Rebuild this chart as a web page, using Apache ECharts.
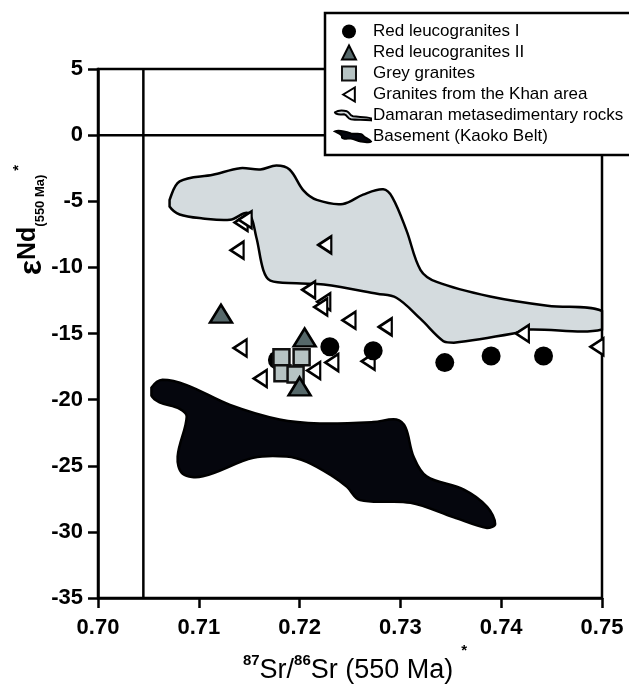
<!DOCTYPE html>
<html>
<head>
<meta charset="utf-8">
<script src="https://cdn.jsdelivr.net/npm/echarts@6/dist/echarts.min.js"></script>
<style>
  html, body { margin: 0; padding: 0; background: #fff; }
  #main { width: 629px; height: 688px; }
</style>
</head>
<body>
<div id="main"></div>
<script>
// 数据点 (87Sr/86Sr, εNd)
var redIX = [0.7178, 0.7230, 0.7273, 0.7344, 0.7390, 0.7442];
var redIY = [-17.0, -16.0, -16.3, -17.2, -16.7, -16.7];

var redIIX = [0.7122, 0.7205, 0.7200];
var redIIY = [-13.5, -15.3, -19.0];

var greyX = [0.7182, 0.7202, 0.7183, 0.7196];
var greyY = [-16.8, -16.8, -18.0, -18.1];

var khanX = [0.7142, 0.7146, 0.7138, 0.7225, 0.7209, 0.7224, 0.7221, 0.7249, 0.7285, 0.7421, 0.7495, 0.7141, 0.7232, 0.7268, 0.7161, 0.7214];
var khanY = [-6.6, -6.4, -8.7, -8.3, -11.7, -12.6, -13.0, -14.0, -14.5, -15.0, -16.0, -16.1, -17.2, -17.1, -18.4, -17.8];

// Damaran 变质沉积岩范围 (多边形)
var damX = [0.7071, 0.7081, 0.7114, 0.7141, 0.7161, 0.7177, 0.7190, 0.7204, 0.7217, 0.7243, 0.7263, 0.7283, 0.7292, 0.7306, 0.7320, 0.7336, 0.7389, 0.7446, 0.7500,
            0.7500, 0.7426, 0.7412, 0.7353, 0.7343, 0.7320, 0.7296, 0.7277, 0.7224, 0.7197, 0.7171, 0.7164, 0.7157, 0.7149, 0.7131, 0.7104, 0.7081, 0.7071];
var damY = [-4.9, -3.5, -3.0, -2.5, -2.6, -2.3, -2.6, -4.2, -4.9, -5.2, -4.5, -4.1, -4.7, -7.2, -10.2, -11.1, -12.2, -12.9, -13.3,
            -14.7, -14.7, -15.0, -15.7, -15.6, -13.9, -12.3, -12.0, -11.3, -11.2, -11.0, -10.2, -7.7, -5.9, -6.4, -6.3, -6.0, -5.4];

// 基底 (Kaoko Belt) 范围
var basX = [0.7053, 0.7064, 0.7088, 0.7131, 0.7180, 0.7220, 0.7273, 0.7296, 0.7305, 0.7313, 0.7326, 0.7363, 0.7386, 0.7394, 0.7386, 0.7353, 0.7310, 0.7260, 0.7247, 0.7233, 0.7207, 0.7187, 0.7154, 0.7104, 0.7084, 0.7079, 0.7088, 0.7081, 0.7061, 0.7053];
var basY = [-19.1, -18.5, -18.9, -20.4, -21.5, -21.8, -21.7, -21.5, -22.1, -24.3, -25.8, -26.8, -28.1, -29.4, -29.7, -28.9, -27.8, -27.6, -26.6, -25.8, -24.7, -24.3, -24.4, -25.8, -25.6, -24.3, -21.3, -20.7, -20.2, -19.7];

var xTicks = [0.70, 0.71, 0.72, 0.73, 0.74, 0.75];
var yTicks = [5, 0, -5, -10, -15, -20, -25, -30, -35];
var refSr = 0.7045;

function zip(xs, ys) {
    return xs.map(function (x, i) { return [x, ys[i]]; });
}

function polySeries(name, xs, ys, fill, z) {
    var pts = zip(xs, ys);
    return {
        name: name,
        type: 'custom',
        z: z,
        itemStyle: { color: fill, borderColor: '#000', borderWidth: 1.5 },
        renderItem: function (params, api) {
            var px = pts.map(function (p) { return api.coord(p); });
            var minX = Infinity, minY = Infinity, maxX = -Infinity, maxY = -Infinity;
            px.forEach(function (p) {
                minX = Math.min(minX, p[0]); maxX = Math.max(maxX, p[0]);
                minY = Math.min(minY, p[1]); maxY = Math.max(maxY, p[1]);
            });
            return {
                type: 'polygon',
                shape: { points: px, smooth: 0.35, smoothConstraint: [[minX, minY], [maxX, maxY]] },
                style: { fill: fill, stroke: '#000', lineWidth: 2.5 }
            };
        },
        data: [0]
    };
}

var font = 'Liberation Sans, Arial, sans-serif';
var legendText = { fontSize: 17, lineHeight: 17, color: '#000', fontFamily: font };

var myChart = echarts.init(document.getElementById('main'));
var option = {
    animation: false,
    textStyle: { fontFamily: font },
    grid: {
        left: 98, right: 27, top: 69, bottom: 90,
        outerBoundsMode: 'none',
        show: true, borderColor: '#000', borderWidth: 2.5
    },
    legend: [{
        orient: 'vertical',
        left: 341, top: 23, z: 20,
        padding: 0,
        itemWidth: 14, itemHeight: 14, itemGap: 4,
        textStyle: Object.assign({ padding: [0, 0, 0, 12] }, legendText),
        data: [
            { name: 'Red leucogranites I', icon: 'circle' },
            { name: 'Red leucogranites II', icon: 'triangle' },
            { name: 'Grey granites', icon: 'rect', itemStyle: { borderWidth: 2 } },
            { name: 'Granites from the Khan area', icon: 'path://M0,6 L10,0 L10,12 Z' }
        ]
    }, {
        orient: 'vertical',
        left: 334, top: 107, z: 20,
        padding: 0,
        itemWidth: 36, itemHeight: 12, itemGap: 4,
        textStyle: Object.assign({ padding: [0, 0, 0, -3] }, legendText),
        data: [
            { name: 'Damaran metasedimentary rocks', icon: 'path://M0,2 C3,0 8,0 12,1 C15,2 14,5 18,6 C24,7 30,6 36,8 L36,10 C28,9 22,10 16,9 C12,8 13,5 9,4 C5,4 1,5 0,2 Z' },
            { name: 'Basement (Kaoko Belt)', icon: 'path://M0,1 C4,-1 10,1 16,3 C22,4 26,2 28,5 C30,8 34,8 36,11 C34,13 30,11 26,11 C22,10 20,9 16,8 C12,8 8,9 7,7 C8,4 4,3 0,1 Z' }
        ]
    }],
    xAxis: [{
        type: 'value',
        min: 0.70, max: 0.75, interval: 0.01,
        axisLine: { show: true, onZero: false, lineStyle: { color: '#000', width: 2.5 } },
        axisTick: { show: true, inside: false, length: 10, lineStyle: { color: '#000', width: 2.5 } },
        axisLabel: {
            margin: 19, color: '#000', fontSize: 22, fontWeight: 'bold', fontFamily: font,
            formatter: function (v) { return v.toFixed(2); }
        },
        splitLine: { show: false }
    }],
    yAxis: [{
        type: 'value',
        min: -35, max: 5, interval: 5,
        axisLine: { show: true, onZero: false, lineStyle: { color: '#000', width: 2.5 } },
        axisTick: { show: true, inside: false, length: 10, lineStyle: { color: '#000', width: 2.5 } },
        axisLabel: { margin: 15, color: '#000', fontSize: 22, fontWeight: 'bold', fontFamily: font },
        splitLine: { show: false }
    }],
    graphic: [{
        // y 轴标题
        type: 'text',
        x: 30, y: 220,
        rotation: Math.PI / 2,
        z: 5,
        style: {
            text: '{e|ε}{m|Nd}{sub|(550 Ma)}{star|*}',
            align: 'center',
            verticalAlign: 'middle',
            rich: {
                e: { fontSize: 32, fill: '#000', fontFamily: font, fontWeight: 'bold', verticalAlign: 'bottom' },
                m: { fontSize: 25, fill: '#000', fontFamily: font, fontWeight: 'bold', verticalAlign: 'bottom', padding: [0, 0, 8, 0] },
                sub: { fontSize: 13, fill: '#000', fontFamily: font, fontWeight: 'bold', verticalAlign: 'bottom', padding: [0, 0, 2, 0] },
                star: { fontSize: 15, fill: '#000', fontFamily: font, fontWeight: 'bold', verticalAlign: 'top', padding: [0, 0, 22, 4] }
            }
        }
    }, {
        // x 轴标题
        type: 'text',
        x: 355, y: 684,
        z: 5,
        style: {
            text: '{sup|87}{m|Sr/}{sup|86}{m|Sr (550 Ma)}{star|*}',
            align: 'center',
            verticalAlign: 'bottom',
            rich: {
                m: { fontSize: 27, fill: '#000', fontFamily: font, verticalAlign: 'bottom' },
                sup: { fontSize: 15, fill: '#000', fontFamily: font, fontWeight: 'bold', verticalAlign: 'top', padding: [10, 0, 0, 0] },
                star: { fontSize: 15, fill: '#000', fontFamily: font, fontWeight: 'bold', verticalAlign: 'top', padding: [0, 0, 26, 8] }
            }
        }
    }, {
        // 图例外框
        type: 'rect',
        z: 10,
        shape: { x: 325, y: 13, width: 320, height: 142 },
        style: { fill: '#fff', stroke: '#000', lineWidth: 2.5 }
    }],
    series: [
        polySeries('Damaran metasedimentary rocks', damX, damY, '#d4dbde', 1),
        polySeries('Basement (Kaoko Belt)', basX, basY, '#05060d', 1),
        {
            type: 'line', silent: true, symbol: 'none', z: 2,
            lineStyle: { color: '#000', width: 2.5 },
            data: [[xTicks[0], 0], [xTicks[xTicks.length - 1], 0]]
        },
        {
            type: 'line', silent: true, symbol: 'none', z: 2,
            lineStyle: { color: '#000', width: 2.5 },
            data: [[refSr, yTicks[yTicks.length - 1]], [refSr, yTicks[0]]]
        },
        {
            name: 'Granites from the Khan area',
            type: 'scatter', z: 3,
            symbol: 'triangle', symbolRotate: 90, symbolSize: [17, 13],
            itemStyle: { color: '#fff', borderColor: '#000', borderWidth: 2.5, opacity: 1 },
            data: zip(khanX, khanY)
        },
        {
            name: 'Red leucogranites I',
            type: 'scatter', z: 4,
            symbol: 'circle', symbolSize: 19,
            itemStyle: { color: '#000', opacity: 1 },
            data: zip(redIX, redIY)
        },
        {
            name: 'Grey granites',
            type: 'scatter', z: 5,
            symbol: 'rect', symbolSize: 16,
            itemStyle: { color: '#b6c3c3', borderColor: '#111', borderWidth: 2.5, opacity: 1 },
            data: zip(greyX, greyY)
        },
        {
            name: 'Red leucogranites II',
            type: 'scatter', z: 6,
            symbol: 'triangle', symbolSize: [22, 18],
            itemStyle: { color: '#56686a', borderColor: '#000', borderWidth: 2.5, opacity: 1 },
            data: zip(redIIX, redIIY)
        }
    ]
};
myChart.setOption(option);
</script>
</body>
</html>
